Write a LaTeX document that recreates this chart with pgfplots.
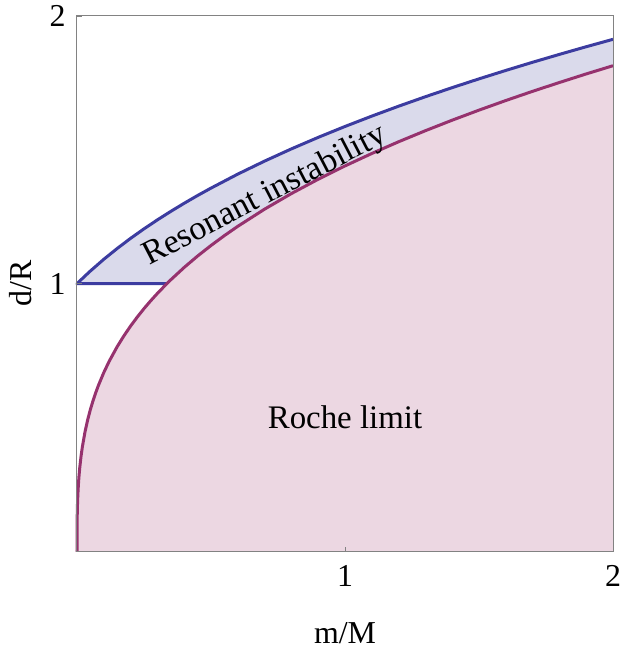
\documentclass[border=0pt]{standalone}
\usepackage{pgfplots}
\pgfplotsset{compat=1.18}
\usepackage{pgfplotstable}
\usepackage{fontspec}
\setmainfont{Liberation Serif}

\definecolor{resline}{RGB}{60,60,160}
\definecolor{resfill}{RGB}{218,218,235}
\definecolor{rocheline}{RGB}{150,50,110}
\definecolor{rochefill}{RGB}{236,215,226}
\definecolor{framegray}{RGB}{130,130,130}

% Roche limit curve
\pgfplotstableread{
x y
0 0
0.0001 0.0668
0.001 0.1440
0.002 0.1814
0.003 0.2077
0.005 0.2462
0.007 0.2755
0.01 0.3102
0.015 0.3551
0.02 0.3908
0.03 0.4474
0.04 0.4925
0.05 0.5305
0.06 0.5637
0.07 0.5934
0.08 0.6205
0.1 0.6684
0.12 0.7103
0.15 0.7651
0.175 0.8054
0.2 0.8421
0.225 0.8758
0.25 0.9072
0.275 0.9364
0.3 0.9640
0.3349 1.0
0.35 1.0148
0.4 1.0610
0.45 1.1035
0.5 1.1429
0.55 1.1798
0.6 1.2145
0.7 1.2786
0.8 1.3368
0.9 1.3903
1.0 1.44
1.1 1.4865
1.2 1.5303
1.3 1.5716
1.4 1.6109
1.5 1.6484
1.6 1.6843
1.7 1.7187
1.8 1.7516
1.9 1.7836
2.0 1.8143
}\roche

% upper edge of the resonant band, with the step at d/R = 1
\pgfplotstableread{
x y
0.3349 1
0 1
0.025 1.0244
0.05 1.0477
0.1 1.0914
0.15 1.1318
0.2 1.1696
0.25 1.2051
0.3 1.2386
0.35 1.2703
0.4 1.3006
0.45 1.3296
0.5 1.3572
0.6 1.4095
0.7 1.4581
0.8 1.5037
0.9 1.5467
1.0 1.5874
1.1 1.6261
1.2 1.6631
1.3 1.6985
1.4 1.7325
1.5 1.7652
1.6 1.7967
1.7 1.8272
1.8 1.8566
1.9 1.8852
2.0 1.9129
}\reson

\begin{document}
\begin{tikzpicture}
\begin{axis}[
  scale only axis,
  width=536bp, height=535.5bp,
  xmin=0, xmax=2, ymin=0, ymax=2,
  xtick={1,2}, ytick={1,2},
  tick pos=left,
  tick align=inside,
  major tick length=5bp,
  tick style={framegray, line width=0.8bp},
  axis line style={framegray, line width=1bp},
  /pgf/number format/assume math mode=true,
  tick label style={font=\fontsize{32}{36}\selectfont},
  xticklabel style={yshift=-10bp},
  yticklabel style={xshift=-8bp},
  label style={font=\fontsize{32}{36}\selectfont},
  xlabel={m/M},
  ylabel={d/R},
  xlabel style={at={(axis description cs:0.5,-0.1720)}, anchor=base, inner sep=0pt},
  ylabel style={at={(axis description cs:-0.1060,0.5)}, anchor=center},
  axis on top,
  clip=false,
]
  % filled regions
  \addplot[draw=none, fill=rochefill] table {\roche} -- (axis cs:2,0) -- cycle;
  \addplot[draw=none, fill=resfill] coordinates {
    (0,1) (0.05,1.0477) (0.1,1.0914) (0.15,1.1318) (0.2,1.1696) (0.25,1.2051)
    (0.3,1.2386) (0.35,1.2703) (0.4,1.3006) (0.45,1.3296) (0.5,1.3572) (0.6,1.4095)
    (0.7,1.4581) (0.8,1.5037) (0.9,1.5467) (1.0,1.5874) (1.1,1.6261) (1.2,1.6631)
    (1.3,1.6985) (1.4,1.7325) (1.5,1.7652) (1.6,1.7967) (1.7,1.8272) (1.8,1.8566)
    (1.9,1.8852) (2.0,1.9129)
    (2.0,1.8143) (1.9,1.7836) (1.8,1.7516) (1.7,1.7187) (1.6,1.6843) (1.5,1.6484)
    (1.4,1.6109) (1.3,1.5716) (1.2,1.5303) (1.1,1.4865) (1.0,1.44) (0.9,1.3903)
    (0.8,1.3368) (0.7,1.2786) (0.6,1.2145) (0.55,1.1798) (0.5,1.1429) (0.45,1.1035)
    (0.4,1.0610) (0.35,1.0148) (0.3349,1.0)
  } -- cycle;

  % boundary curves
  \addplot[resline, line width=3bp, line join=round] table {\reson};
  \addplot[rocheline, line width=3bp, line join=round] table {\roche};

  \node[font=\fontsize{33}{36}\selectfont] at (axis cs:1.0,0.5) {Roche limit};
  \node[font=\fontsize{34}{38}\selectfont, rotate=27.5, anchor=base]
    at (axis cs:0.716,1.300) {Resonant instability};
\end{axis}
\pgfresetboundingbox
\useasboundingbox (-77bp,-96.5bp) rectangle (546bp,551.5bp);
\end{tikzpicture}
\end{document}
